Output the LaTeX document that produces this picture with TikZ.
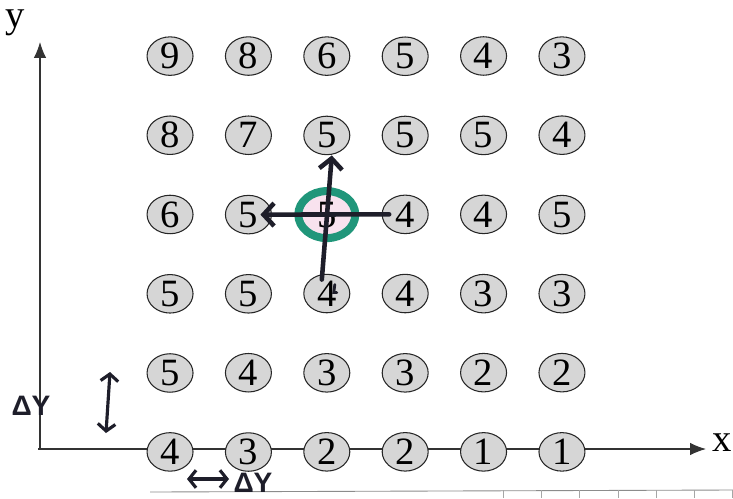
\documentclass[tikz,border=0pt]{standalone}
\usepackage{fontspec}
\setmainfont{Liberation Serif}
\newfontfamily\handfont{Liberation Sans}
\usepackage{tikz}
\usetikzlibrary{matrix,positioning,arrows.meta,shapes.geometric,calc}
\definecolor{cellgray}{RGB}{214,214,214}
\definecolor{ringgreen}{RGB}{32,150,122}
\definecolor{ringpink}{RGB}{248,226,238}
\definecolor{inkdark}{RGB}{30,30,42}
\tikzset{
  cell/.style={ellipse,draw=black!85,fill=cellgray,line width=0.6pt,minimum width=0.92cm,minimum height=0.77cm,inner sep=0pt,font=\fontsize{22}{24}\selectfont},
  hot/.style={draw=ringgreen,fill=ringpink,line width=0.16cm,minimum width=1.14cm,minimum height=0.94cm},
  axis/.style={draw=black!80,line width=0.6pt,-{Latex[length=9pt,width=7pt]}},
  handarrow/.style={draw=inkdark,line width=2.6pt,line cap=round,-{Straight Barb[length=6pt,width=13pt]}},
  handboth/.style={draw=inkdark,line width=1.8pt,line cap=round,{Straight Barb[length=4pt,width=10pt]}-{Straight Barb[length=4pt,width=10pt]}},
  handlabel/.style={font=\handfont\bfseries\fontsize{16}{18}\selectfont,text=inkdark,inner sep=0pt},
}
\begin{document}
\begin{tikzpicture}[x=0.02cm,y=-0.02cm]
  \useasboundingbox (0,0) rectangle (733,498);
  % axes
  \coordinate (origin) at (40,449);
  \coordinate (xend) at (706,449);
  \coordinate (yend) at (40,42);
  \draw[axis] ($(origin)+(-2,0)$) -- (xend);
  \draw[axis] (origin) -- (yend);
  \node[font=\fontsize{22}{24}\selectfont] (xlab) at (722,443) {x};
  \node[font=\fontsize{22}{24}\selectfont] (ylab) at (15,23) {y};
  % scanned ruler line at the bottom
  \draw[black!45,line width=0.5pt] (150,492) -- (733,490);
  \foreach \t in {0,...,6} {\draw[black!35,line width=0.4pt] (503+38.3*\t,490) -- ++(0,8);}
  % grid of values
  \matrix(m) [matrix of nodes, row sep={1.584cm,between origins}, column sep={1.568cm,between origins}, nodes={cell}, anchor=center] at (366,254) {
    9 & 8 & 6 & 5 & 4 & 3 \\
    8 & 7 & 5 & 5 & 5 & 4 \\
    6 & 5 & |[hot]| 5 & 4 & 4 & 5 \\
    5 & 5 & 4 & 4 & 3 & 3 \\
    5 & 4 & 3 & 3 & 2 & 2 \\
    4 & 3 & 2 & 2 & 1 & 1 \\
  };
  % hand drawn arrows
  \draw[handarrow] ($(m-3-4)+(-16,0)$) -- ($(m-3-2)+(12,0)$);
  \draw[handarrow] ($(m-4-3)+(-5,-14)$) -- ($(m-2-3)+(5,20)$);
  \draw[inkdark,line width=1.6pt,line cap=round] ($(m-4-3)+(8,-9)$) -- ($(m-4-3)+(7,-1)$) -- ($(m-4-3)+(10,-1)$);
  % spacing marks
  \coordinate (dytop) at (110,372);
  \coordinate (dybot) at (106,433);
  \draw[handboth] (dytop) -- (dybot);
  \node[handlabel] (dylab) at (31,406) {ΔY};
  \coordinate (dxleft) at (187,479);
  \coordinate (dxright) at (229,479);
  \draw[handboth] (dxleft) -- (dxright);
  \node[handlabel] (dxlab) at (253,483) {ΔY};
\end{tikzpicture}
\end{document}
